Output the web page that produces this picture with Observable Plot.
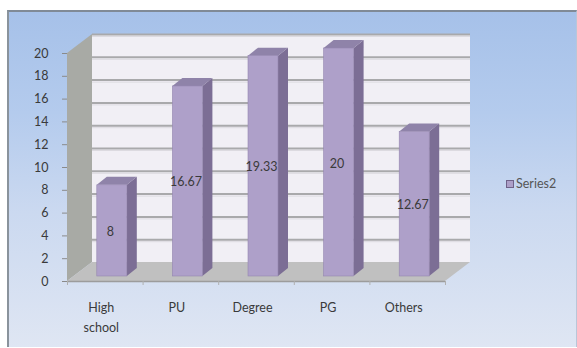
<!DOCTYPE html>
<html>
<head>
<meta charset="utf-8">
<script src="https://cdn.jsdelivr.net/npm/d3@7"></script>
<script src="https://cdn.jsdelivr.net/npm/@observablehq/plot@0.6"></script>
<style>
  html, body { margin: 0; padding: 0; background: #ffffff; }
  #wrap { position: relative; width: 577px; height: 348px; overflow: hidden; background: #fff; }
  #box { position: absolute; left: 7px; top: 10px; width: 567px; height: 335px;
    border-top: 2px solid #808a96; border-left: 2px solid #8a939c; border-right: 1px solid #b9c6d8;
    background: linear-gradient(to bottom, #a6c1e9 0%, #b4cbed 30%, #cbd9f0 60%, #dfe6f3 100%); }
  #chart { position: absolute; left: 0; top: 0; }
  #legend { position: absolute; left: 506px; top: 176px; font-family: Lato, "Open Sans", sans-serif;
    font-size: 12.5px; color: #555; display: flex; align-items: center; gap: 2px; }
  #legend .sw { width: 6px; height: 6px; background: #ad9fc8; border: 1px solid #6f6288; }
</style>
</head>
<body>
<div id="wrap">
  <div id="box"></div>
  <div id="chart"></div>
  <div id="legend"><span class="sw"></span><span id="legendText"></span></div>
</div>
<script>
const categories = ["High\nschool", "PU", "Degree", "PG", "Others"];
const values = [8, 16.67, 19.33, 20, 12.67];
const valueLabels = ["8", "16.67", "19.33", "20", "12.67"];
const yTicks = [0, 2, 4, 6, 8, 10, 12, 14, 16, 18, 20];
const seriesName = "Series2";

document.getElementById("legendText").textContent = seriesName;

const W = 577, H = 348;
const mL = 67, mR = 132, mT = 53, mB = 67;
const n = categories.length;
const yMax = 20;
const pxX = (W - mL - mR) / n;      // pixels per category unit
const pxY = (H - mT - mB) / yMax;   // pixels per value unit

// 3D depth (pixel intent -> data units)
const wallDX = 25 / pxX, wallDY = 19 / pxY;
const barDX = 10 / pxX, barDY = 8 / pxY;
const barHalf = 15 / pxX;
const barOffX = 7, barOffY = -5;
const tickLen = 4 / pxY;

const bars = values.map((v, i) => ({i, v, label: valueLabels[i], cat: categories[i],
  xl: i + 0.5 - barHalf, xr: i + 0.5 + barHalf}));

const sideData = bars.flatMap(b => [
  {id: b.i, x: b.xr, y1: 0, y2: b.v},
  {id: b.i, x: b.xr + barDX, y1: barDY, y2: b.v + barDY}
]);
const topData = bars.flatMap(b => [
  {id: b.i, y: b.v, x1: b.xl, x2: b.xr},
  {id: b.i, y: b.v + barDY, x1: b.xl + barDX, x2: b.xr + barDX}
]);
const floorData = [
  {y: 0, x1: 0, x2: n},
  {y: wallDY, x1: wallDX, x2: n + wallDX}
];
const leftWall = [
  {x: 0, y1: 0, y2: yMax},
  {x: wallDX, y1: wallDY, y2: yMax + wallDY}
];
const backWall = [{x1: wallDX, x2: n + wallDX, y1: wallDY, y2: yMax + wallDY}];

const font = 'Lato, "Open Sans", sans-serif';

const chart = Plot.plot({
  width: W, height: H,
  marginLeft: mL, marginRight: mR, marginTop: mT, marginBottom: mB,
  style: {background: "transparent", fontFamily: font, fontSize: "12px", color: "#3a3a3a", overflow: "visible"},
  x: {type: "linear", domain: [0, n], axis: null},
  y: {type: "linear", domain: [0, yMax], axis: null},
  marks: [
    Plot.rect(backWall, {x1: "x1", x2: "x2", y1: "y1", y2: "y2", fill: "#f1eff5"}),
    Plot.ruleY(yTicks.slice(1), {x1: wallDX, x2: n + wallDX, y: d => d + wallDY, stroke: "#a9a9ab", strokeWidth: 2}),
    Plot.ruleY(yTicks.slice(1), {x1: wallDX, x2: n + wallDX, y: d => d + wallDY, dy: 2, stroke: "#dcdae0", strokeWidth: 1}),
    Plot.areaY(leftWall, {x: "x", y1: "y1", y2: "y2", fill: "#a8aaa5"}),
    Plot.areaX(floorData, {y: "y", x1: "x1", x2: "x2", fill: "#c0c0c0"}),
    Plot.ruleY([0], {x1: 0, x2: n, stroke: "#9c9c9c", strokeWidth: 1.5}),
    Plot.ruleX(d3.range(0, n + 1), {x: d => d, y1: 0, y2: -tickLen, stroke: "#b0b0b0", strokeWidth: 1}),
    Plot.axisY({ticks: yTicks, tickSize: 5, tickPadding: 14, tickFormat: d => String(d),
      stroke: "#8a8a8a", fill: "#3a3a3a", fontSize: 12.5}),
    Plot.areaY(sideData, {x: "x", y1: "y1", y2: "y2", z: "id", fill: "#7c6e95", dx: barOffX, dy: barOffY}),
    Plot.areaX(topData, {y: "y", x1: "x1", x2: "x2", z: "id", fill: "#8f83a9", dx: barOffX, dy: barOffY}),
    Plot.rect(bars, {x1: "xl", x2: "xr", y1: 0, y2: "v", fill: "#aea0c9", stroke: "#9486b0", strokeWidth: 0.6, dx: barOffX, dy: barOffY}),
    Plot.text(bars, {x: d => d.i + 0.5, y: d => d.v / 2, text: "label", dx: barOffX - 2, dy: barOffY + 1,
      fill: "#3a3a3a", fontSize: 12.5}),
    Plot.text(bars, {x: d => d.i + 0.5, y: 0, text: "cat", dx: -4, dy: 16, lineAnchor: "top", lineHeight: 1.6,
      fill: "#3a3a3a", fontSize: 12.5})
  ]
});
document.getElementById("chart").appendChild(chart);
</script>
</body>
</html>
